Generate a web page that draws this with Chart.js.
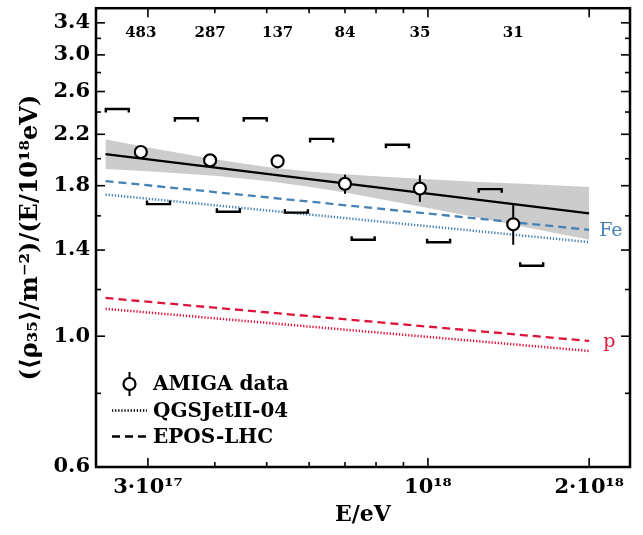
<!DOCTYPE html>
<html>
<head>
<meta charset="utf-8">
<script src="https://cdn.jsdelivr.net/npm/chart.js@4/dist/chart.umd.min.js"></script>
<style>
  html, body { margin: 0; padding: 0; background: #fff; }
  #wrap { width: 643px; height: 535px; }
</style>
</head>
<body>
<div id="wrap"><canvas id="c" width="643" height="535"></canvas></div>
<script>
// ---------- data ----------
const amigaE     = [2.91e17, 3.92e17, 5.24e17, 7.00e17, 9.66e17, 1.443e18];
const amigaVal   = [2.053, 1.987, 1.980, 1.813, 1.780, 1.548];
const amigaErrHi = [2.085, 2.015, 2.010, 1.879, 1.875, 1.669];
const amigaErrLo = [2.022, 1.960, 1.950, 1.744, 1.690, 1.429];
const eventCounts = ['483', '287', '137', '84', '35', '31'];

const sysUpE   = [2.63e17, 3.54e17, 4.76e17, 6.33e17, 8.77e17, 1.307e18];
const sysUpVal = [2.428, 2.342, 2.342, 2.161, 2.112, 1.776];
const sysLoE   = [3.14e17, 4.24e17, 5.68e17, 7.57e17, 1.047e18, 1.562e18];
const sysLoVal = [1.675, 1.626, 1.620, 1.457, 1.443, 1.317];

const fitE   = [2.5e17, 2e18];
const fitVal = [2.036, 1.615];

const bandE  = [2.5e17, 3e17, 4e17, 5e17, 6e17, 7e17, 8e17, 1e18, 1.25e18, 1.5e18, 2e18];
const bandHi = [2.158, 2.090, 1.995, 1.936, 1.902, 1.882, 1.867, 1.845, 1.826, 1.813, 1.791];
const bandLo = [1.921, 1.904, 1.871, 1.834, 1.793, 1.752, 1.714, 1.650, 1.586, 1.535, 1.457];

const modelE = [2.5e17, 2e18];
const feEpos = [1.833, 1.515];
const feQgs  = [1.739, 1.444];
const pEpos  = [1.161, 0.9815];
const pQgs   = [1.113, 0.944];

const xMajorTicks = [3e17, 1e18, 2e18];
const xTickLabels = ['3·10¹⁷', '10¹⁸', '2·10¹⁸'];
const xMinorTicks = [4e17, 5e17, 6e17, 7e17, 8e17, 9e17];
const yMajorTicks = [0.6, 1.0, 1.4, 1.8, 2.2, 2.6, 3.0, 3.4];
const yTickLabels = ['0.6', '1.0', '1.4', '1.8', '2.2', '2.6', '3.0', '3.4'];
const yMinorTicks = [0.8, 1.2, 1.6, 2.0, 2.4, 2.8, 3.2];

const legendLabels = ['AMIGA data', 'QGSJetII-04', 'EPOS-LHC'];
const xTitle = 'E/eV';
const yTitle = '(⟨ρ₃₅⟩/m⁻²)/(E/10¹⁸eV)';

// ---------- styles ----------
const BLUE = '#4682b4';
const RED = '#dc143c';
const SERIF = "'DejaVu Serif', serif";
const DASH = [8, 5];
const DOT = [1.3, 1.8];

const pts = (xs, ys) => xs.map((v, i) => ({ x: v, y: ys[i] }));

const lineDs = (label, xs, ys, color, dash, order, width) => ({
  label, data: pts(xs, ys), borderColor: color, borderDash: dash,
  borderWidth: width || 2.3, pointRadius: 0, fill: false, order, tension: 0
});

const datasets = [
  { label: 'band-hi', data: pts(bandE, bandHi), borderWidth: 0, borderColor: 'rgba(0,0,0,0)',
    backgroundColor: '#cccccc', pointRadius: 0, fill: '+1', order: 10, tension: 0 },
  { label: 'band-lo', data: pts(bandE, bandLo), borderWidth: 0, borderColor: 'rgba(0,0,0,0)',
    pointRadius: 0, fill: false, order: 11, tension: 0 },
  lineDs('Fe QGSJetII-04', modelE, feQgs, BLUE, DOT, 6, 2.5),
  lineDs('Fe EPOS-LHC', modelE, feEpos, BLUE, DASH, 5),
  lineDs('p QGSJetII-04', modelE, pQgs, RED, DOT, 6, 2.5),
  lineDs('p EPOS-LHC', modelE, pEpos, RED, DASH, 5),
  lineDs('fit', fitE, fitVal, '#000', [], 3, 2.3),
  { label: 'AMIGA data', id: 'amiga', data: pts(amigaE, amigaVal), showLine: false,
    pointRadius: 6, pointHoverRadius: 6, pointBackgroundColor: '#fff', pointBorderColor: '#000',
    pointBorderWidth: 2.2, borderColor: '#000', order: 1 }
];

// ---------- plugins ----------
const errorBars = {
  id: 'errorBars',
  beforeDatasetDraw(chart, args) {
    const ds = chart.data.datasets[args.index];
    if (ds.id !== 'amiga') return;
    const { ctx, scales: { x, y } } = chart;
    ctx.save();
    ctx.strokeStyle = '#000';
    ctx.lineWidth = 2;
    amigaE.forEach((e, i) => {
      const px = x.getPixelForValue(e);
      ctx.beginPath();
      ctx.moveTo(px, y.getPixelForValue(amigaErrHi[i]));
      ctx.lineTo(px, y.getPixelForValue(amigaErrLo[i]));
      ctx.stroke();
    });
    ctx.restore();
  }
};

const overlay = {
  id: 'overlay',
  afterDatasetsDraw(chart) {
    const { ctx, chartArea: a, scales: { x, y } } = chart;
    ctx.save();
    // systematic brackets
    ctx.strokeStyle = '#000';
    ctx.lineWidth = 2.4;
    ctx.lineJoin = 'miter';
    const halfW = 11.5, tk = 3.5;
    sysUpE.forEach((e, i) => {
      const cx = x.getPixelForValue(e), cy = y.getPixelForValue(sysUpVal[i]);
      ctx.beginPath();
      ctx.moveTo(cx - halfW, cy + tk); ctx.lineTo(cx - halfW, cy);
      ctx.lineTo(cx + halfW, cy); ctx.lineTo(cx + halfW, cy + tk);
      ctx.stroke();
    });
    sysLoE.forEach((e, i) => {
      const cx = x.getPixelForValue(e), cy = y.getPixelForValue(sysLoVal[i]);
      ctx.beginPath();
      ctx.moveTo(cx - halfW, cy - tk); ctx.lineTo(cx - halfW, cy);
      ctx.lineTo(cx + halfW, cy); ctx.lineTo(cx + halfW, cy - tk);
      ctx.stroke();
    });
    // event counts
    ctx.fillStyle = '#000';
    ctx.font = 'bold 15px ' + SERIF;
    ctx.textAlign = 'center';
    ctx.textBaseline = 'middle';
    amigaE.forEach((e, i) => {
      ctx.fillText(eventCounts[i], x.getPixelForValue(e), a.top + 25);
    });
    // composition labels
    ctx.font = '19px ' + SERIF;
    ctx.textAlign = 'left';
    ctx.textBaseline = 'alphabetic';
    const endX = x.getPixelForValue(modelE[modelE.length - 1]);
    ctx.fillStyle = BLUE;
    ctx.fillText('Fe', endX + 10, y.getPixelForValue(feEpos[feEpos.length - 1]) + 6);
    ctx.fillStyle = RED;
    ctx.fillText('p', endX + 14, y.getPixelForValue(pEpos[pEpos.length - 1]) + 6);
    ctx.restore();
  },
  afterDraw(chart) {
    const { ctx, chartArea: a, scales: { x, y } } = chart;
    ctx.save();
    ctx.strokeStyle = '#000';
    ctx.lineWidth = 1.6;
    const seg = (x0, y0, x1, y1) => { ctx.beginPath(); ctx.moveTo(x0, y0); ctx.lineTo(x1, y1); ctx.stroke(); };
    const MAJ = 9, MIN = 5;
    xMajorTicks.forEach(v => { const p = x.getPixelForValue(v); seg(p, a.bottom, p, a.bottom - MAJ); seg(p, a.top, p, a.top + MAJ); });
    xMinorTicks.forEach(v => { const p = x.getPixelForValue(v); seg(p, a.bottom, p, a.bottom - MIN); seg(p, a.top, p, a.top + MIN); });
    yMajorTicks.forEach(v => { const p = y.getPixelForValue(v); seg(a.left, p, a.left + MAJ, p); seg(a.right, p, a.right - MAJ, p); });
    yMinorTicks.forEach(v => { const p = y.getPixelForValue(v); seg(a.left, p, a.left + MIN, p); seg(a.right, p, a.right - MIN, p); });
    ctx.lineWidth = 2.5;
    ctx.strokeRect(a.left, a.top, a.right - a.left, a.bottom - a.top);

    // legend
    const lx0 = a.left + 16, lx1 = a.left + 51, tx = a.left + 57;
    const rows = [a.bottom - 83, a.bottom - 56.5, a.bottom - 30.5];
    ctx.lineWidth = 2;
    const mx = (lx0 + lx1) / 2;
    seg(mx, rows[0] - 12, mx, rows[0] + 12);
    ctx.beginPath();
    ctx.arc(mx, rows[0], 6, 0, Math.PI * 2);
    ctx.fillStyle = '#fff'; ctx.fill();
    ctx.lineWidth = 2.2; ctx.stroke();
    ctx.lineWidth = 2.5;
    ctx.setLineDash(DOT); seg(lx0, rows[1], lx1, rows[1]);
    ctx.lineWidth = 2.3;
    ctx.setLineDash(DASH); seg(lx0, rows[2], lx1, rows[2]);
    ctx.setLineDash([]);
    ctx.fillStyle = '#000';
    ctx.font = 'bold 20px ' + SERIF;
    ctx.textAlign = 'left';
    ctx.textBaseline = 'middle';
    legendLabels.forEach((t, i) => ctx.fillText(t, tx, rows[i] + 1));
    ctx.restore();
  }
};

const tickFont = { family: SERIF, weight: 'bold', size: 21 };

new Chart(document.getElementById('c'), {
  type: 'line',
  data: { datasets },
  options: {
    responsive: false,
    animation: false,
    events: [],
    layout: { padding: { left: 0, top: 5, right: 13, bottom: 0 } },
    plugins: { legend: { display: false }, tooltip: { enabled: false } },
    scales: {
      x: {
        type: 'logarithmic', min: 2.4e17, max: 2.384e18,
        grid: { display: false, drawTicks: false },
        border: { display: false },
        afterBuildTicks: s => { s.ticks = xMajorTicks.map(v => ({ value: v })); },
        afterFit: s => { s.height = 68; s.paddingLeft = 0; s.paddingRight = 0; },
        ticks: { autoSkip: false, maxRotation: 0, padding: 8, color: '#000', font: tickFont,
                 callback: (v, i) => xTickLabels[i] },
        title: { display: true, text: xTitle, color: '#000',
                 font: { family: SERIF, weight: 'bold', size: 22 }, padding: { top: 0, bottom: 7 } }
      },
      y: {
        type: 'logarithmic', min: 0.6, max: 3.6,
        grid: { display: false, drawTicks: false },
        border: { display: false },
        afterBuildTicks: s => { s.ticks = yMajorTicks.map(v => ({ value: v })); },
        afterFit: s => { s.width = 96; s.paddingTop = 0; s.paddingBottom = 0; },
        ticks: { autoSkip: false, padding: 6, color: '#000', font: tickFont,
                 callback: (v, i) => yTickLabels[i] },
        title: { display: true, text: yTitle, color: '#000',
                 font: { family: SERIF, weight: 'bold', size: 24 }, padding: { top: 16, bottom: 0 } }
      }
    }
  },
  plugins: [errorBars, overlay]
});
</script>
</body>
</html>
